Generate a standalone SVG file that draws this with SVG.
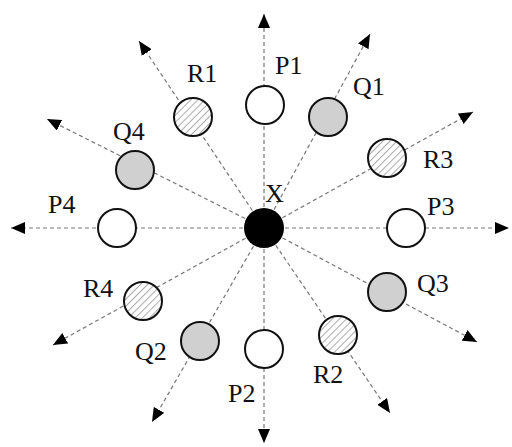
<svg xmlns="http://www.w3.org/2000/svg" width="512" height="447" viewBox="0 0 512 447">
<defs>
<style>
.c{stroke:#777;stroke-width:1.2;stroke-dasharray:4 3;fill:none;marker-end:url(#ah)}
.n{stroke:#111;stroke-width:2}
.p{fill:#fff}
.q{fill:#d0d0d0}
.r{fill:url(#hatch)}
.t{font-family:"Liberation Serif","Times New Roman",serif;font-size:26px;fill:#111}
</style>
<marker id="ah" markerUnits="userSpaceOnUse" markerWidth="14" markerHeight="12" refX="14" refY="6" orient="auto">
<path d="M0,0 L14,6 L0,12 Z" fill="#000"/>
</marker>
<pattern id="hatch" patternUnits="userSpaceOnUse" width="5" height="5" patternTransform="rotate(45)">
<rect width="5" height="5" fill="#fff"/>
<line x1="0" y1="0" x2="0" y2="5" stroke="#888" stroke-width="1.4"/>
</pattern>
</defs>
<rect width="512" height="447" fill="#fff"/>
<g id="connectors">
<line class="c" x1="264" y1="228" x2="264" y2="14"/>
<line class="c" x1="264" y1="228" x2="370" y2="34"/>
<line class="c" x1="264" y1="228" x2="473" y2="112"/>
<line class="c" x1="264" y1="228" x2="509" y2="228"/>
<line class="c" x1="264" y1="228" x2="477" y2="342"/>
<line class="c" x1="264" y1="228" x2="390" y2="413"/>
<line class="c" x1="264" y1="228" x2="264" y2="443"/>
<line class="c" x1="264" y1="228" x2="152" y2="422"/>
<line class="c" x1="264" y1="228" x2="53" y2="345"/>
<line class="c" x1="264" y1="228" x2="11" y2="228"/>
<line class="c" x1="264" y1="228" x2="47" y2="119"/>
<line class="c" x1="264" y1="228" x2="139" y2="41"/>
</g>
<g id="X"><circle cx="264" cy="228" r="20" fill="#000"/><text class="t" x="265" y="202">X</text></g>
<g id="P1"><circle class="n p" cx="265" cy="105" r="19"/><text class="t" x="275" y="74">P1</text></g>
<g id="Q1"><circle class="n q" cx="328" cy="117" r="19"/><text class="t" x="353" y="95">Q1</text></g>
<g id="R1"><circle class="n r" cx="193" cy="117" r="19"/><text class="t" x="187" y="82">R1</text></g>
<g id="R3"><circle class="n r" cx="387" cy="158" r="19"/><text class="t" x="423" y="168">R3</text></g>
<g id="P3"><circle class="n p" cx="406" cy="228" r="19"/><text class="t" x="427" y="215">P3</text></g>
<g id="Q3"><circle class="n q" cx="387" cy="292" r="19"/><text class="t" x="417" y="292">Q3</text></g>
<g id="R2"><circle class="n r" cx="338" cy="335" r="19"/><text class="t" x="313" y="383">R2</text></g>
<g id="P2"><circle class="n p" cx="264" cy="349" r="19"/><text class="t" x="228" y="402">P2</text></g>
<g id="Q2"><circle class="n q" cx="200" cy="341" r="19"/><text class="t" x="135" y="360">Q2</text></g>
<g id="R4"><circle class="n r" cx="143" cy="301" r="19"/><text class="t" x="83" y="297">R4</text></g>
<g id="P4"><circle class="n p" cx="117" cy="228" r="19"/><text class="t" x="48" y="213">P4</text></g>
<g id="Q4"><circle class="n q" cx="135" cy="170" r="19"/><text class="t" x="113" y="140">Q4</text></g>
</svg>
